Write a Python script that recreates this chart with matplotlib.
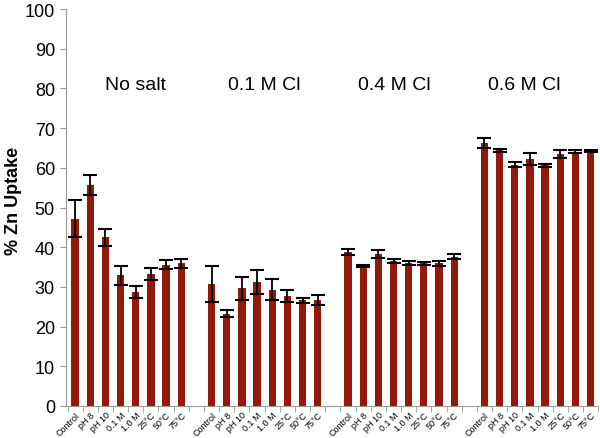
import numpy as np
import matplotlib
matplotlib.use("Agg")
import matplotlib.pyplot as plt

plt.rcParams.update({"font.family": ["Liberation Sans", "DejaVu Sans"]})

# --- data ---
groups = ["No salt", "0.1 M Cl", "0.4 M Cl", "0.6 M Cl"]
conditions = ["Control", "pH 8", "pH 10", "0.1 M", "1.0 M", "25\u00b0C", "50\u00b0C", "75\u00b0C"]
no_salt = [47.2, 55.7, 42.5, 32.9, 28.8, 33.3, 35.6, 35.9]
no_salt_err = [4.7, 2.5, 2.2, 2.3, 1.5, 1.5, 1.2, 1.2]
cl_01 = [30.8, 23.2, 29.6, 31.3, 29.3, 27.6, 26.6, 26.7]
cl_01_err = [4.5, 0.9, 2.8, 3.0, 2.7, 1.5, 0.6, 1.2]
cl_04 = [38.8, 35.2, 38.3, 36.5, 36.0, 35.9, 35.9, 37.6]
cl_04_err = [0.8, 0.3, 1.0, 0.6, 0.4, 0.4, 0.6, 0.6]
cl_06 = [66.3, 64.4, 60.8, 62.2, 60.6, 63.6, 64.1, 64.2]
cl_06_err = [1.3, 0.45, 0.7, 1.5, 0.4, 1.0, 0.3, 0.2]
yticks = list(range(0, 101, 10))

BAR = "#921a0c"
label_shift = [0.5, 0.0, -0.45, -0.9]   # group titles sit a little off-centre
fig = plt.figure(figsize=(6.0, 4.39), dpi=100)
ax = fig.add_axes([0.11, 0.073, 0.887, 0.904])

series = [(no_salt, no_salt_err), (cl_01, cl_01_err), (cl_04, cl_04_err), (cl_06, cl_06_err)]
pos_all, lab_all = [], []
for g, (vals, errs) in enumerate(series):
    x = np.arange(len(conditions)) + g * (len(conditions) + 1)
    ax.bar(x, vals, width=0.48, color=BAR, zorder=2)
    ax.errorbar(x, vals, yerr=errs, fmt="none", ecolor="black", elinewidth=1.3,
                capsize=5, capthick=1.5, zorder=3)
    ax.text(x.mean() + label_shift[g], 81, groups[g], ha="center", va="center", fontsize=14)
    pos_all += list(x); lab_all += conditions

ax.set_xlim(-0.6, 34.45)
ax.set_ylim(0, 100)
ax.set_yticks(yticks)
ax.set_yticklabels([str(t) for t in yticks], fontsize=13)
ax.set_xticks(pos_all)
ax.set_xticklabels(lab_all, rotation=45, ha="right", rotation_mode="anchor", fontsize=6.5)
ax.set_xticks(np.arange(-0.5, 35, 1), minor=True)
ax.tick_params(axis="x", which="major", length=0, pad=3)
ax.tick_params(axis="x", which="minor", length=4, color="#999999", direction="out")
ax.tick_params(axis="y", length=4, color="#999999", direction="out", pad=4)
ax.set_ylabel("% Zn Uptake", fontsize=13, fontweight="bold")
ax.yaxis.set_label_coords(-0.083, 0.52)
for s in ["top", "right"]:
    ax.spines[s].set_visible(False)
for s in ["left", "bottom"]:
    ax.spines[s].set_color("#999999")

fig.savefig("out.png", dpi=100, facecolor="white")
